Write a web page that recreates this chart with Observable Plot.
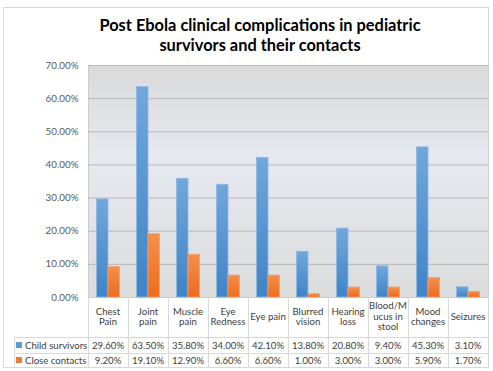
<!DOCTYPE html>
<html><head><meta charset="utf-8">
<script src="https://cdn.jsdelivr.net/npm/d3@7"></script>
<script src="https://cdn.jsdelivr.net/npm/@observablehq/plot@0.6"></script>
<style>
body{margin:0;background:#fff;}
#chart{position:relative;width:493px;height:371px;overflow:hidden;font-family:Lato,"Open Sans",sans-serif;background:#fff;}
#border{position:absolute;left:3px;top:7px;width:486px;height:361px;border:1px solid #d9d9d9;box-sizing:border-box;}
#title{position:absolute;left:60px;width:400px;top:15px;text-align:center;font-weight:bold;font-size:16.4px;line-height:20px;color:#000;}
#plot{position:absolute;left:0;top:0;}
.ln{position:absolute;background:#d9d9d9;}
.cell{position:absolute;display:flex;align-items:center;justify-content:center;text-align:center;font-size:9.6px;color:#404040;}
.cat{line-height:10.5px;}
.rowlab{position:absolute;display:flex;align-items:center;font-size:9.6px;color:#404040;white-space:nowrap;}
.sw{display:inline-block;width:6px;height:6px;margin-right:3px;}
</style>
</head><body>
<div id="chart">
  <div id="border"></div>
  <div id="title"></div>
  <div id="plot"></div>
</div>
<script>
const titleLines = ["Post Ebola clinical complications in pediatric", "survivors and their contacts"];
const categories = ["Chest Pain","Joint pain","Muscle pain","Eye Redness","Eye pain","Blurred vision","Hearing loss","Blood/Mucus in stool","Mood changes","Seizures"];
const categoryLabelLines = [["Chest","Pain"],["Joint","pain"],["Muscle","pain"],["Eye","Redness"],["Eye pain"],["Blurred","vision"],["Hearing","loss"],["Blood/M","ucus in","stool"],["Mood","changes"],["Seizures"]];
const seriesNames = ["Child survivors","Close contacts"];
const childSurvivors = [29.6,63.5,35.8,34.0,42.1,13.8,20.8,9.4,45.3,3.1];
const closeContacts = [9.2,19.1,12.9,6.6,6.6,1.0,3.0,3.0,5.9,1.7];
const yTicks = [0,10,20,30,40,50,60,70];

const fmt = v => v.toFixed(2) + "%";

document.getElementById("title").innerHTML = titleLines.join("<br>");

const rows = categories.map((c,i) => ({category:c, child:childSurvivors[i], close:closeContacts[i]}));

const plot = Plot.plot({
  width: 493,
  height: 371,
  marginTop: 65,
  marginBottom: 74,
  marginLeft: 88,
  marginRight: 5,
  style: {background:"transparent", fontFamily:"Lato, sans-serif", fontSize:"9.8px", color:"#595959", overflow:"visible"},
  x: {domain: categories, padding: 0, axis: null},
  y: {domain: [0,70], ticks: yTicks, tickFormat: fmt, tickSize: 0, tickPadding: 10, label: null},
  marks: [
    Plot.frame({fill: "url(#bgGrad)", stroke: "#cccccc"}),
    Plot.ruleY(yTicks.slice(1), {stroke: "#b8b8b8", strokeWidth: 1}),
    Plot.barY(rows, {x: "category", y: "child", fill: "url(#blueGrad)", stroke: "#8ab8e4", strokeWidth: 0.8, insetLeft: 8.5, insetRight: 20}),
    Plot.barY(rows, {x: "category", y: "close", fill: "url(#orangeGrad)", stroke: "#f5a06a", strokeWidth: 0.8, insetLeft: 20, insetRight: 8.5})
  ]
});

const defs = d3.select(plot).insert("defs", ":first-child");
function grad(id, stops){
  const g = defs.append("linearGradient").attr("id", id).attr("x1",0).attr("y1",0).attr("x2",0).attr("y2",1);
  stops.forEach(([o,c]) => g.append("stop").attr("offset", o).attr("stop-color", c));
}
grad("bgGrad", [[0,"#dadada"],[0.4,"#e6e9f0"],[1,"#dcdcdc"]]);
grad("blueGrad", [[0,"#71a7dc"],[1,"#3f84c7"]]);
grad("orangeGrad", [[0,"#f58f4c"],[1,"#ec6c1e"]]);

document.getElementById("plot").appendChild(plot);

// data table below the plot
const chart = document.getElementById("chart");
const x0 = 88, colW = 40, top0 = 297, r1 = 337, r2 = 353, r3 = 367, legX = 14;
function line(x, y, w, h){
  const d = document.createElement("div");
  d.className = "ln";
  Object.assign(d.style, {left: x+"px", top: y+"px", width: w+"px", height: h+"px"});
  chart.appendChild(d);
}
function cell(cls, x, y, w, h, html){
  const d = document.createElement("div");
  d.className = cls;
  Object.assign(d.style, {left: x+"px", top: y+"px", width: w+"px", height: h+"px"});
  d.innerHTML = html;
  chart.appendChild(d);
  return d;
}
for (let i = 0; i <= categories.length; i++) line(x0 + i*colW, top0, 1, r3 - top0);
line(legX, r1, 1, r3 - r1);
[r1, r2, r3].forEach(y => line(legX, y, x0 + categories.length*colW - legX + 1, 1));

categoryLabelLines.forEach((lines, i) => {
  cell("cell cat", x0 + i*colW, top0, colW, r1 - top0, lines.join("<br>"));
});
const seriesValues = [childSurvivors, closeContacts];
const seriesColors = ["#5b9bd5","#ed7d31"];
const rowTops = [r1, r2];
const rowH = [r2 - r1, r3 - r2];
seriesNames.forEach((name, s) => {
  cell("rowlab", legX + 2, rowTops[s], x0 - legX - 2, rowH[s], `<span class="sw" style="background:${seriesColors[s]}"></span>${name}`);
  seriesValues[s].forEach((v, i) => {
    cell("cell", x0 + i*colW, rowTops[s], colW, rowH[s], fmt(v));
  });
});
</script>
</body></html>
